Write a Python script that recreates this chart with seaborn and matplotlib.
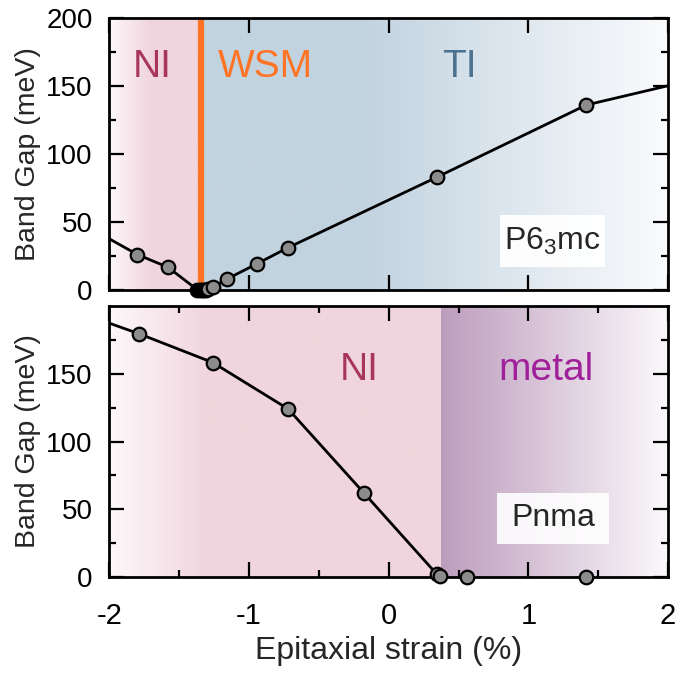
import numpy as np
import pandas as pd
import matplotlib
matplotlib.use("Agg")
import matplotlib.pyplot as plt
import seaborn as sns
from matplotlib.colors import to_rgb
from matplotlib.patches import Rectangle

# ---------------- data ----------------
# Top panel (P6_3mc)
top_x = [-1.80, -1.58, -1.295, -1.26, -1.155, -0.94, -0.724, 0.346, 1.416]
top_y = [26.4, 17.0, 1.0, 2.5, 8.6, 19.8, 31.3, 83.3, 136.3]
top_wsm_x = [-1.37, -1.355, -1.34, -1.325, -1.31]
top_wsm_y = [0.5, 0.5, 0.5, 0.5, 0.5]
top_edge_x = [-2.0, 2.0]
top_edge_y = [37.9, 150.4]

# Bottom panel (Pnma)
bot_x = [-1.79, -1.26, -0.72, -0.18, 0.345, 0.365]
bot_y = [179.6, 158.3, 124.0, 62.3, 2.0, 0.5]
bot_metal_x = [0.56, 1.415]
bot_metal_y = [0.0, 0.0]
bot_edge_x = [-2.0]
bot_edge_y = [187.3]

wsm_x = -1.346
metal_start = 0.375

xticks = [-2, -1, 0, 1, 2]
xticklabels = ["-2", "-1", "0", "1", "2"]
top_yticks = [0, 50, 100, 150, 200]
bot_yticks = [0, 50, 100, 150]

# ---------------- style ----------------
sns.set_theme(style="ticks")
plt.rcParams["font.family"] = ["Liberation Sans", "DejaVu Sans"]
plt.rcParams["mathtext.fontset"] = "custom"
plt.rcParams["mathtext.rm"] = "Liberation Sans"

fig = plt.figure(figsize=(6.84, 6.73), dpi=100)
ax1 = fig.add_axes([0.160, 0.5684, 0.8166, 0.4045])
ax2 = fig.add_axes([0.160, 0.1426, 0.8166, 0.4027])

def gradient(ax, x0, x1, stops, y0=0, y1=200):
    n = 256
    t = np.linspace(0, 1, n)
    fr = [s[0] for s in stops]
    cols = np.array([to_rgb(s[1]) for s in stops])
    img = np.zeros((1, n, 3))
    for c in range(3):
        img[0, :, c] = np.interp(t, fr, cols[:, c])
    ax.imshow(img, extent=[x0, x1, y0, y1], aspect="auto", zorder=0,
              interpolation="bilinear")

pink = "#f0d5dd"
blue = "#c2d3e0"
purple = "#bd9dbd"

gradient(ax1, -2, wsm_x, [(0, "#fdf8fa"), (0.45, pink), (1, pink)])
gradient(ax1, wsm_x, 2, [(0, blue), (0.35, blue), (1, "#fafbfd")])
gradient(ax2, -2, metal_start, [(0, "#fdf8fa"), (0.3, pink), (1, pink)])
gradient(ax2, metal_start, 2, [(0, purple), (1, "#fbf9fb")])

ax1.axvline(wsm_x, color="#ff7325", lw=4.5, zorder=2)

top_line = pd.DataFrame({
    "x": top_edge_x[:1] + top_x[:2] + top_wsm_x + top_x[2:] + top_edge_x[1:],
    "y": top_edge_y[:1] + top_y[:2] + top_wsm_y + top_y[2:] + top_edge_y[1:],
})
sns.lineplot(data=top_line, x="x", y="y", ax=ax1, color="black", lw=2,
             sort=True, zorder=3)
bot_line = pd.DataFrame({"x": bot_edge_x + bot_x, "y": bot_edge_y + bot_y})
sns.lineplot(data=bot_line, x="x", y="y", ax=ax2, color="black", lw=2,
             sort=True, zorder=3)

mk = dict(s=95, edgecolor="black", linewidth=1.6, zorder=5, clip_on=False)
sns.scatterplot(x=top_wsm_x, y=top_wsm_y, ax=ax1, color="black", **mk)
sns.scatterplot(x=top_x, y=top_y, ax=ax1, color="#8c8c8c", **mk)
sns.scatterplot(x=bot_x, y=bot_y, ax=ax2, color="#8c8c8c", **mk)
sns.scatterplot(x=bot_metal_x, y=bot_metal_y, ax=ax2, color="#8c8c8c", **mk)

for ax in (ax1, ax2):
    ax.set_xlim(-2, 2)
    ax.set_ylim(0, 200)
    ax.set_xticks(xticks)
    ax.tick_params(which="both", direction="in", top=True, right=True,
                   width=1.6, colors="black")
    ax.tick_params(which="major", length=11)
    ax.tick_params(which="minor", length=5)
    ax.tick_params(axis="y", labelsize=20, pad=12)
    ax.tick_params(axis="x", labelsize=21, pad=18)
    ax.set_yticks([25, 75, 125, 175], minor=True)
    for sp in ax.spines.values():
        sp.set_linewidth(2.0)
        sp.set_color("black")
    ax.set_ylabel("Band Gap (meV)", fontsize=20.5, labelpad=4)
    ax.set_xlabel("")

ax1.set_yticks(top_yticks)
ax1.set_xticklabels([])
ax2.set_yticks(bot_yticks)
ax2.set_xticks([-1.5, -0.5, 0.5, 1.5], minor=True)
ax2.set_xticklabels(xticklabels)
ax2.set_xlabel("Epitaxial strain (%)", fontsize=23, labelpad=4)

fs_lab = 28
ax1.text(-1.696, 164, "NI", color="#a8365c", fontsize=fs_lab, ha="center", va="center")
ax1.text(-0.886, 164, "WSM", color="#ff7325", fontsize=fs_lab, ha="center", va="center")
ax1.text(0.504, 164, "TI", color="#4c7292", fontsize=fs_lab, ha="center", va="center")
ax2.text(-0.213, 152.8, "NI", color="#a8365c", fontsize=fs_lab, ha="center", va="center")
ax2.text(1.127, 152.8, "metal", color="#a0209a", fontsize=fs_lab, ha="center", va="center")

# label boxes
ax1.add_patch(Rectangle((0.797, 17.3), 0.752, 38.2, facecolor="white", alpha=0.95,
                        edgecolor="none", zorder=6))
ax2.add_patch(Rectangle((0.776, 24.4), 0.802, 37.6, facecolor="white", alpha=0.9,
                        edgecolor="none", zorder=6))
ax1.text(1.173, 36.4, r"P6$_3$mc", fontsize=23, ha="center", va="center", zorder=7)
ax2.text(1.177, 43.2, "Pnma", fontsize=23, ha="center", va="center", zorder=7)

fig.align_ylabels([ax1, ax2])
fig.savefig("out.png", dpi=100)
